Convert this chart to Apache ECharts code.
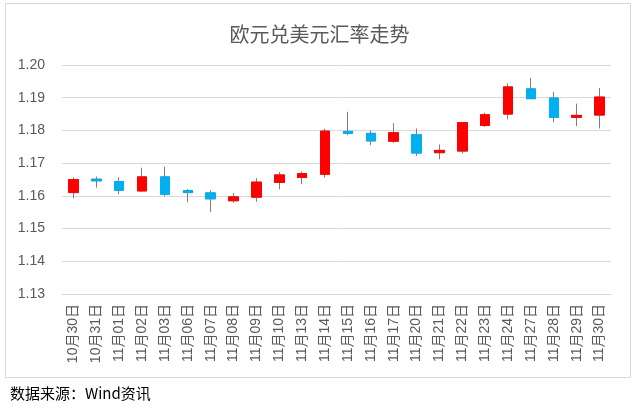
<!DOCTYPE html>
<html><head><meta charset="utf-8">
<script src="https://cdn.jsdelivr.net/npm/echarts@6/dist/echarts.min.js"></script>
<style>html,body{margin:0;padding:0;background:#fff}#c{width:639px;height:415px}</style>
</head><body><div id="c"></div>
<script>
const dates = ['10月30日','10月31日','11月01日','11月02日','11月03日','11月06日','11月07日','11月08日','11月09日','11月10日','11月13日','11月14日','11月15日','11月16日','11月17日','11月20日','11月21日','11月22日','11月23日','11月24日','11月27日','11月28日','11月29日','11月30日'];
const openV  = [1.1610,1.1651,1.1644,1.1615,1.1658,1.1616,1.1609,1.1585,1.1596,1.1641,1.1656,1.1666,1.1797,1.1791,1.1767,1.1787,1.1732,1.1737,1.1815,1.1850,1.1927,1.1899,1.1840,1.1847];
const closeV = [1.1650,1.1646,1.1617,1.1658,1.1605,1.1610,1.1591,1.1597,1.1642,1.1664,1.1668,1.1798,1.1791,1.1768,1.1793,1.1731,1.1739,1.1824,1.1848,1.1933,1.1897,1.1840,1.1846,1.1902];
const lowV   = [1.1592,1.1625,1.1605,1.1613,1.1599,1.1580,1.1551,1.1579,1.1582,1.1620,1.1636,1.1656,1.1785,1.1755,1.1762,1.1722,1.1712,1.1730,1.1811,1.1834,1.1897,1.1825,1.1813,1.1806];
const highV  = [1.1657,1.1659,1.1657,1.1686,1.1689,1.1621,1.1617,1.1609,1.1654,1.1673,1.1675,1.1805,1.1857,1.1800,1.1822,1.1806,1.1757,1.1826,1.1854,1.1944,1.1961,1.1918,1.1882,1.1930];
const yTicks = { min: 1.13, max: 1.20, step: 0.01 };

const UP = '#FF0000', DOWN = '#00B0F0', WICK = '#7F7F7F';
const wickData = dates.map((d,i)=>[openV[i], closeV[i], lowV[i], highV[i]]);
const bodyData = dates.map((d,i)=>[openV[i], closeV[i], Math.min(openV[i],closeV[i]), Math.max(openV[i],closeV[i])]);

const chart = echarts.init(document.getElementById('c'));
chart.setOption({
  animation: false,
  backgroundColor: '#fff',
  title: { text: '欧元兑美元汇率走势', left: 'center', top: 19,
    textStyle: { color: '#595959', fontSize: 20, fontWeight: 'normal', fontFamily: 'Noto Sans CJK SC' } },
  graphic: [
    { type: 'rect', shape: { x: 5.5, y: 3.5, width: 625, height: 374 }, style: { fill: 'none', stroke: '#d9d9d9', lineWidth: 1 }, z: -1 },
    { type: 'text', left: 10, top: 386, style: { text: '数据来源：Wind资讯', fill: '#000', font: '15px "Noto Sans CJK SC"' } }
  ],
  grid: { left: 62, right: 28, top: 65, bottom: 121 },
  xAxis: { type: 'category', data: dates, boundaryGap: true,
    axisLine: { show: true, lineStyle: { color: '#d9d9d9' } }, axisTick: { show: false },
    axisLabel: { rotate: 90, interval: 0, margin: 10, color: '#595959', fontSize: 14, fontFamily: 'Liberation Sans, Noto Sans CJK SC' } },
  yAxis: { type: 'value', min: yTicks.min, max: yTicks.max, interval: yTicks.step, scale: true,
    axisLine: { show: false }, axisTick: { show: false },
    splitLine: { lineStyle: { color: '#d9d9d9' } },
    axisLabel: { margin: 17, color: '#595959', fontSize: 14, fontFamily: 'Liberation Sans', formatter: v => v.toFixed(2) } },
  series: [
    { type: 'candlestick', data: wickData, barWidth: 10,
      itemStyle: { color: WICK, color0: WICK, borderColor: WICK, borderColor0: WICK, borderWidth: 1 } },
    { type: 'candlestick', data: bodyData, barWidth: 10, z: 3,
      itemStyle: { color: UP, color0: DOWN, borderColor: UP, borderColor0: DOWN, borderWidth: 1 } }
  ]
});
</script></body></html>
